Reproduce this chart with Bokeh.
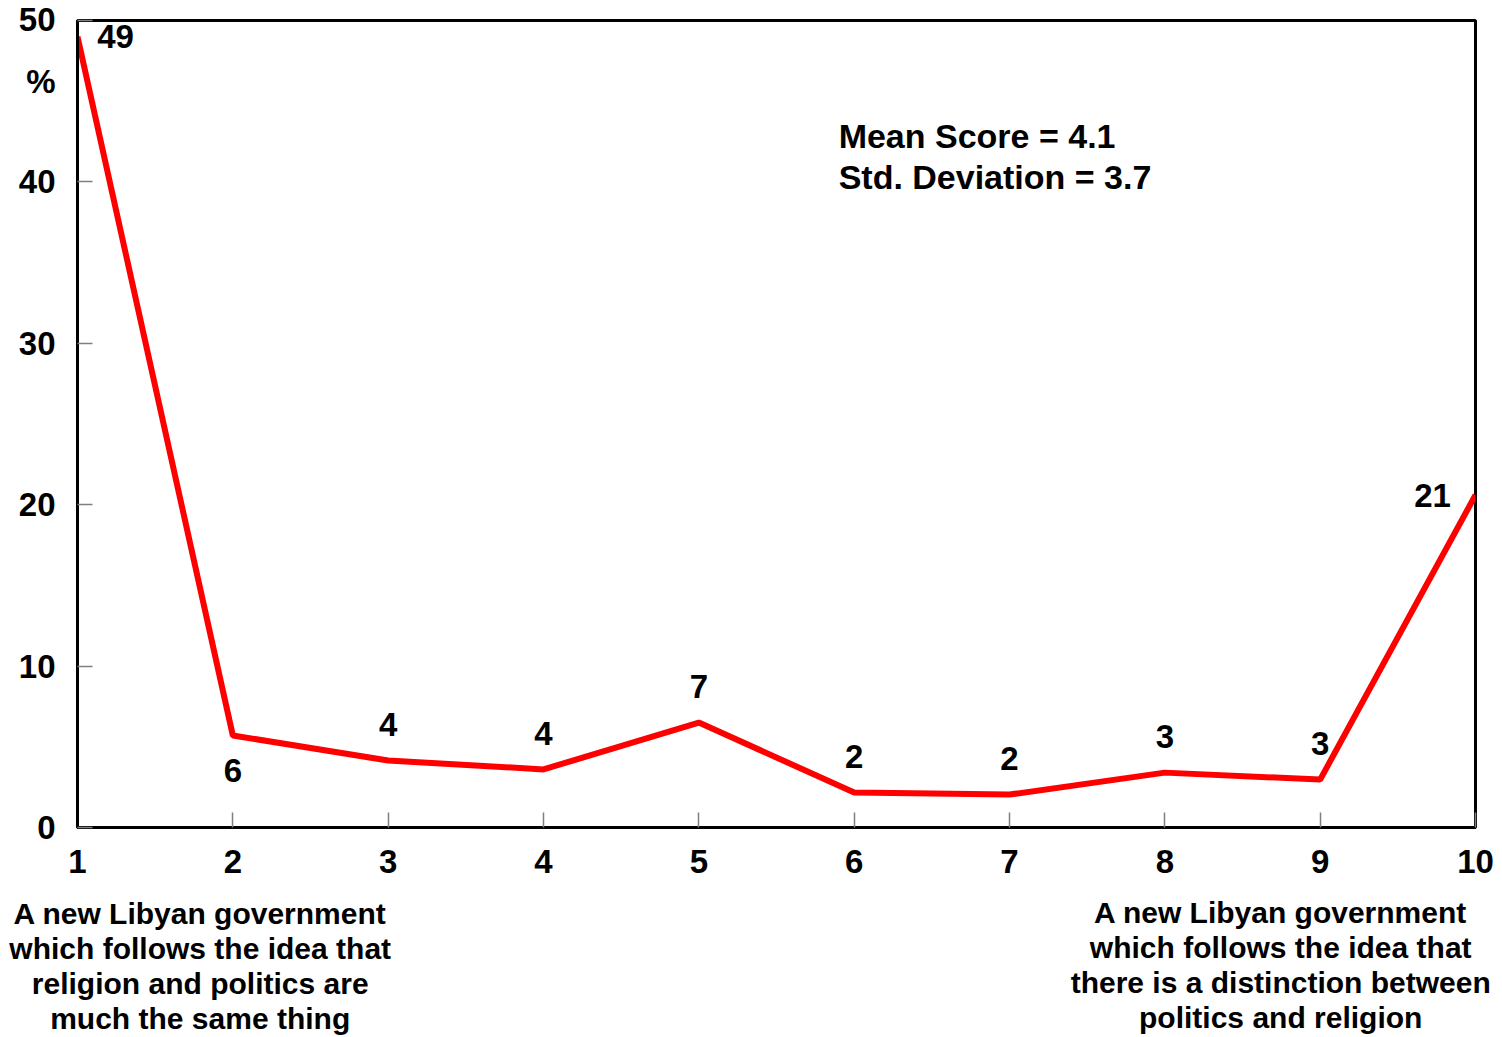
from bokeh.plotting import figure
from bokeh.models import Range1d, FixedTicker, Label, ColumnDataSource
from bokeh.layouts import column
from bokeh.core.properties import value
from bokeh.embed import file_html
from bokeh.resources import INLINE

# ---- data ----
scale_points = [1, 2, 3, 4, 5, 6, 7, 8, 9, 10]
percent = [49.0, 5.7, 4.15, 3.6, 6.5, 2.17, 2.04, 3.4, 2.97, 20.6]
value_labels = ["49", "6", "4", "4", "7", "2", "2", "3", "3", "21"]
label_side = ["right", "below", "above", "above", "above", "above", "above", "above", "above", "left"]
y_ticks = [0, 10, 20, 30, 40, 50]
y_unit = "%"
stats_text = "Mean Score = 4.1\nStd. Deviation = 3.7"
end_positions = [1.79, 8.746]
end_texts = [
    "A new Libyan government\nwhich follows the idea that\nreligion and politics are\nmuch the same thing",
    "A new Libyan government\nwhich follows the idea that\nthere is a distinction between\npolitics and religion",
]

FONT = "Liberation Sans"
W = 1502
H = 1037
TOP_H = 885
FRAME_L, FRAME_R = 77, 27

side_offsets = {"right": (38, 0), "left": (-43, 0), "above": (0, -36), "below": (0, 35)}
dx = [side_offsets[s][0] for s in label_side]
dy = [side_offsets[s][1] for s in label_side]

src = ColumnDataSource(dict(x=scale_points, y=percent, t=value_labels, dx=dx, dy=dy))

xr = Range1d(scale_points[0], scale_points[-1])
p = figure(width=W, height=TOP_H, output_backend="svg", toolbar_location=None,
           x_range=xr, y_range=Range1d(0, 50),
           min_border_left=FRAME_L, min_border_right=FRAME_R, min_border_top=20, min_border_bottom=58)
p.background_fill_color = "white"
p.border_fill_color = "white"
p.outline_line_color = "black"
p.outline_line_width = 3
p.grid.visible = False
p.frame_align = False

p.line("x", "y", source=src, line_color="#FF0000", line_width=6)
p.text("x", "y", text="t", source=src, x_offset="dx", y_offset="dy",
       text_align="center", text_baseline="middle",
       text_font=value(FONT), text_font_style="bold", text_font_size="33px", text_color="black")

for ax in (p.xaxis[0], p.yaxis[0]):
    ax.axis_line_color = "black"
    ax.axis_line_width = 3
    ax.major_tick_in = 15
    ax.major_tick_out = 0
    ax.major_tick_line_color = "#808080"
    ax.major_tick_line_width = 1.5
    ax.minor_tick_line_color = None
    ax.major_label_text_font = FONT
    ax.major_label_text_font_style = "bold"
    ax.major_label_text_font_size = "33px"
    ax.major_label_text_color = "black"
    ax.major_label_standoff = 22

p.xaxis[0].ticker = FixedTicker(ticks=scale_points)
p.yaxis[0].ticker = FixedTicker(ticks=y_ticks)
# unit sign shown under the top tick label
p.yaxis[0].major_label_overrides = {y_ticks[-1]: str(y_ticks[-1]) + "\n" + y_unit}
p.yaxis[0].major_label_text_line_height = 1.7

p.add_layout(Label(x=5.9, y=44.05, text=stats_text, text_align="left", text_baseline="top",
                   text_font=FONT, text_font_style="bold", text_font_size="34px",
                   text_color="black", text_line_height=1.1))

# bottom strip with the scale end descriptions; its frame spans the full width,
# with an x range that lines up with the main chart's x scale
frame_w = W - FRAME_L - FRAME_R
px_per_unit = frame_w / (scale_points[-1] - scale_points[0])
bx = Range1d(scale_points[0] - FRAME_L / px_per_unit, scale_points[-1] + FRAME_R / px_per_unit)
b = figure(width=W, height=H - TOP_H, output_backend="svg", toolbar_location=None,
           x_range=bx, y_range=Range1d(H - TOP_H, 0),
           x_axis_type=None, y_axis_type=None,
           min_border_left=0, min_border_right=0, min_border_top=0, min_border_bottom=0)
b.outline_line_color = None
b.grid.visible = False
b.background_fill_color = "white"
b.border_fill_color = "white"
b.frame_align = False
b.text(x=end_positions, y=[11, 10], text=end_texts, text_align="center", text_baseline="top",
       text_font=value(FONT), text_font_style="bold", text_font_size="30px",
       text_color="black", text_line_height=1.07)

layout = column(p, b, spacing=0)
open("out.html", "w").write(file_html(layout, INLINE))
